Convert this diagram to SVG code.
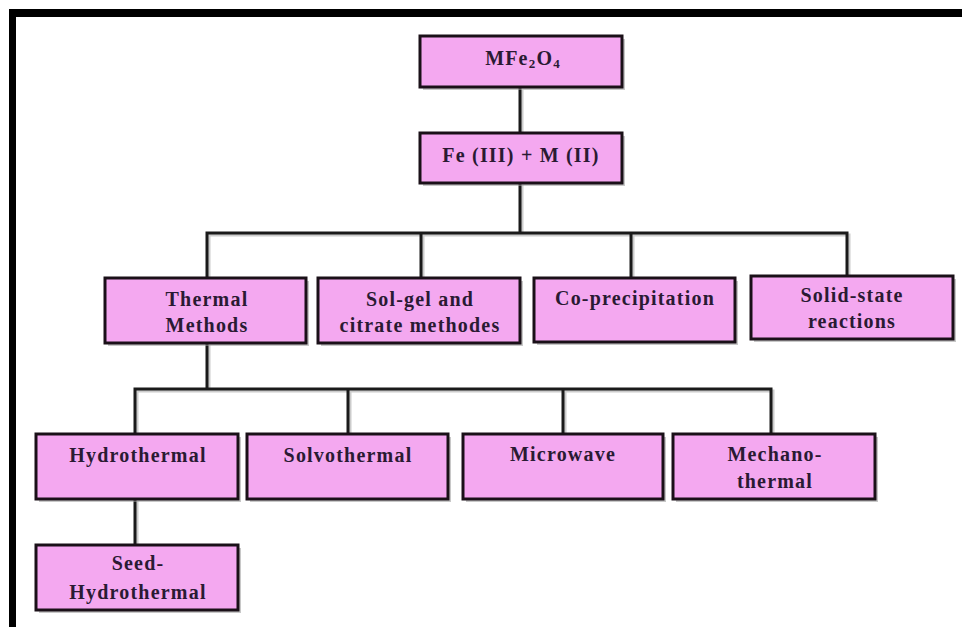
<svg xmlns="http://www.w3.org/2000/svg" width="962" height="627" viewBox="0 0 962 627">
<style>
.box{fill:#f4a8f0;stroke:#1a1018;stroke-width:3}
.shadow{fill:#9a9a9a;opacity:0.55}
.lbl{font-family:"Liberation Serif","Times New Roman",serif;font-weight:bold;font-size:20px;fill:#2a1a33;text-anchor:middle;letter-spacing:1.2px}
.conn{fill:none;stroke:#1a1a1a;stroke-width:3}
.connsh{fill:none;stroke:#aaaaaa;stroke-width:3;opacity:0.6}
</style>
<rect x="0" y="0" width="962" height="627" fill="#ffffff"/>
<g id="frame">
<rect x="9" y="9" width="953" height="8" fill="#000"/>
<rect x="9" y="9" width="7" height="618" fill="#000"/>
</g>
<g id="connectors">
<g transform="translate(2,2)">
<path class="connsh" d="M520 88 V133 M520 183 V233 M207 278 V233 H847 V276 M421 233 V278 M631 233 V278 M207 343 V389 M135 434 V389 H771 V434 M348 389 V434 M563 389 V434 M135 499 V545"/>
</g>
<path class="conn" d="M520 88 V133 M520 183 V233 M207 278 V233 H847 V276 M421 233 V278 M631 233 V278 M207 343 V389 M135 434 V389 H771 V434 M348 389 V434 M563 389 V434 M135 499 V545"/>
</g>
<g id="n-mfe2o4">
<rect class="shadow" x="423" y="39" width="202" height="51"/>
<rect class="box" x="420" y="36" width="202" height="51"/>
<text class="lbl" x="523" y="65">MFe<tspan font-size="13" dy="3">2</tspan><tspan dy="-3">O</tspan><tspan font-size="13" dy="3">4</tspan></text>
</g>
<g id="n-fe-m">
<rect class="shadow" x="423" y="136" width="202" height="50"/>
<rect class="box" x="420" y="133" width="202" height="50"/>
<text class="lbl" x="521" y="162">Fe (III) + M (II)</text>
</g>
<g id="n-thermal">
<rect class="shadow" x="108" y="281" width="201" height="65"/>
<rect class="box" x="105" y="278" width="201" height="65"/>
<text class="lbl" x="207" y="306">Thermal</text>
<text class="lbl" x="207" y="332">Methods</text>
</g>
<g id="n-solgel">
<rect class="shadow" x="321" y="281" width="202" height="65"/>
<rect class="box" x="318" y="278" width="202" height="65"/>
<text class="lbl" x="420" y="306">Sol-gel and</text>
<text class="lbl" x="420" y="332">citrate methodes</text>
</g>
<g id="n-coprec">
<rect class="shadow" x="537" y="281" width="201" height="64"/>
<rect class="box" x="534" y="278" width="201" height="64"/>
<text class="lbl" x="635" y="305">Co-precipitation</text>
</g>
<g id="n-solidstate">
<rect class="shadow" x="754" y="279" width="202" height="63"/>
<rect class="box" x="751" y="276" width="202" height="63"/>
<text class="lbl" x="852" y="302">Solid-state</text>
<text class="lbl" x="852" y="328">reactions</text>
</g>
<g id="n-hydro">
<rect class="shadow" x="39" y="437" width="202" height="65"/>
<rect class="box" x="36" y="434" width="202" height="65"/>
<text class="lbl" x="138" y="462">Hydrothermal</text>
</g>
<g id="n-solvo">
<rect class="shadow" x="250" y="437" width="201" height="65"/>
<rect class="box" x="247" y="434" width="201" height="65"/>
<text class="lbl" x="348" y="462">Solvothermal</text>
</g>
<g id="n-micro">
<rect class="shadow" x="466" y="437" width="200" height="65"/>
<rect class="box" x="463" y="434" width="200" height="65"/>
<text class="lbl" x="563" y="461">Microwave</text>
</g>
<g id="n-mechano">
<rect class="shadow" x="676" y="437" width="202" height="65"/>
<rect class="box" x="673" y="434" width="202" height="65"/>
<text class="lbl" x="775" y="461">Mechano-</text>
<text class="lbl" x="775" y="488">thermal</text>
</g>
<g id="n-seed">
<rect class="shadow" x="39" y="548" width="202" height="65"/>
<rect class="box" x="36" y="545" width="202" height="65"/>
<text class="lbl" x="138" y="570">Seed-</text>
<text class="lbl" x="138" y="599">Hydrothermal</text>
</g>
</svg>
